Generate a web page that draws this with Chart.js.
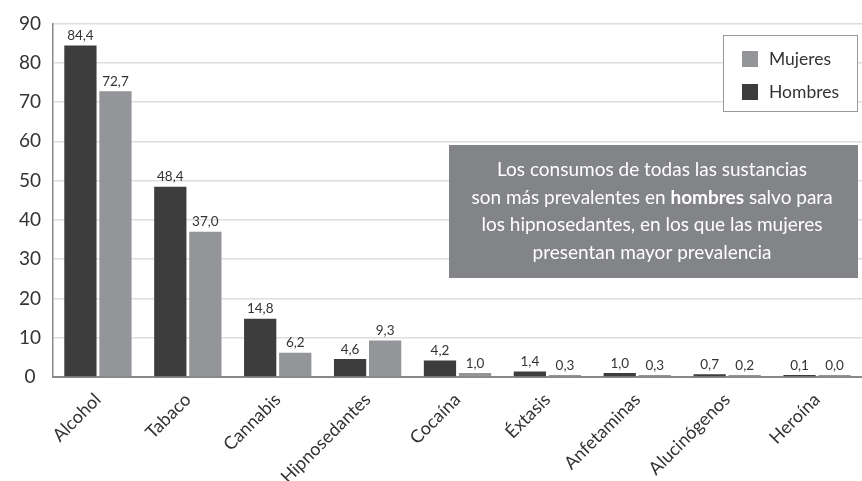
<!DOCTYPE html>
<html>
<head>
<meta charset="utf-8">
<script src="https://cdn.jsdelivr.net/npm/chart.js@4/dist/chart.umd.min.js"></script>
<style>
  html, body { margin: 0; padding: 0; background: #fff; }
  #wrap { width: 862px; height: 481px; }
</style>
</head>
<body>
<div id="wrap"><canvas id="consumo"></canvas></div>
<script>
const categories = ["Alcohol", "Tabaco", "Cannabis", "Hipnosedantes", "Cocaína", "Éxtasis", "Anfetaminas", "Alucinógenos", "Heroína"];
const hombres = [84.4, 48.4, 14.8, 4.6, 4.2, 1.4, 1.0, 0.7, 0.1];
const mujeres = [72.7, 37.0, 6.2, 9.3, 1.0, 0.3, 0.3, 0.2, 0.0];
const yTicks = [0, 10, 20, 30, 40, 50, 60, 70, 80, 90];
const noteLines = [
    [["Los consumos de todas las sustancias", false]],
    [["son más prevalentes en ", false], ["hombres", true], [" salvo para", false]],
    [["los hipnosedantes, en los que las mujeres", false]],
    [["presentan mayor prevalencia", false]],
];

const FONT = "Lato, 'Open Sans', sans-serif";
const DARK = "#3d3d3d";
const LIGHT = "#949599";

const fmt = (v) => v.toFixed(1).replace(".", ",");

// value labels over bars + legend box + note box
const extras = {
    id: "extras",
    afterDatasetsDraw(chart) {
        const ctx = chart.ctx;
        ctx.save();
        ctx.fillStyle = "#333";
        ctx.font = "13.5px " + FONT;
        ctx.textAlign = "center";
        ctx.textBaseline = "bottom";
        chart.data.datasets.forEach((ds, i) => {
            chart.getDatasetMeta(i).data.forEach((bar, j) => {
                ctx.fillText(fmt(ds.data[j]), bar.x, bar.y - 3);
            });
        });

        // note
        ctx.fillStyle = "#838487";
        ctx.fillRect(449, 145, 409, 133);
        ctx.fillStyle = "#fff";
        ctx.textAlign = "left";
        ctx.textBaseline = "middle";
        noteLines.forEach((line, k) => {
            let w = 0;
            line.forEach(([t, b]) => {
                ctx.font = (b ? "bold " : "") + "19px " + FONT;
                w += ctx.measureText(t).width;
            });
            let x = 652 - w / 2;
            const y = 170 + k * 27.5;
            line.forEach(([t, b]) => {
                ctx.font = (b ? "bold " : "") + "19px " + FONT;
                ctx.fillText(t, x, y);
                x += ctx.measureText(t).width;
            });
        });

        // legend
        ctx.fillStyle = "#fff";
        ctx.fillRect(723, 35, 134, 76);
        ctx.strokeStyle = "#999";
        ctx.lineWidth = 1;
        ctx.strokeRect(723.5, 35.5, 134, 76);
        const items = [["Mujeres", LIGHT], ["Hombres", DARK]];
        ctx.font = "17.5px " + FONT;
        items.forEach(([name, col], k) => {
            const y = 51 + k * 33;
            ctx.fillStyle = col;
            ctx.fillRect(742, y, 16, 16);
            ctx.fillStyle = "#333";
            ctx.fillText(name, 769, y + 8);
        });
        ctx.restore();
    },
};

new Chart(document.getElementById("consumo"), {
    type: "bar",
    data: {
        labels: categories,
        datasets: [
            { label: "Hombres", data: hombres, backgroundColor: DARK },
            { label: "Mujeres", data: mujeres, backgroundColor: LIGHT },
        ],
    },
    options: {
        responsive: true,
        maintainAspectRatio: false,
        animation: false,
        datasets: { bar: { categoryPercentage: 0.78, barPercentage: 0.92, minBarLength: 2 } },
        layout: { padding: { top: 23, left: 0, right: 0, bottom: 0 } },
        plugins: { legend: { display: false }, tooltip: { enabled: false } },
        scales: {
            x: {
                grid: { display: false },
                border: { color: "#888", width: 2 },
                ticks: {
                    color: "#333",
                    font: { family: FONT, size: 18 },
                    minRotation: 45,
                    maxRotation: 45,
                    padding: 4,
                },
                afterFit: (s) => { s.height = 104; },
            },
            y: {
                min: 0,
                max: 90,
                afterBuildTicks: (s) => { s.ticks = yTicks.map((v) => ({ value: v })); },
                grid: { color: "#dedede", lineWidth: 1.5, drawTicks: false },
                border: { color: "#888", width: 1.5 },
                ticks: {
                    color: "#333",
                    font: { family: FONT, size: 19 },
                    crossAlign: "center",
                    padding: 12,
                },
                afterFit: (s) => { s.width = 53; },
            },
        },
    },
    plugins: [extras],
});
</script>
</body>
</html>
